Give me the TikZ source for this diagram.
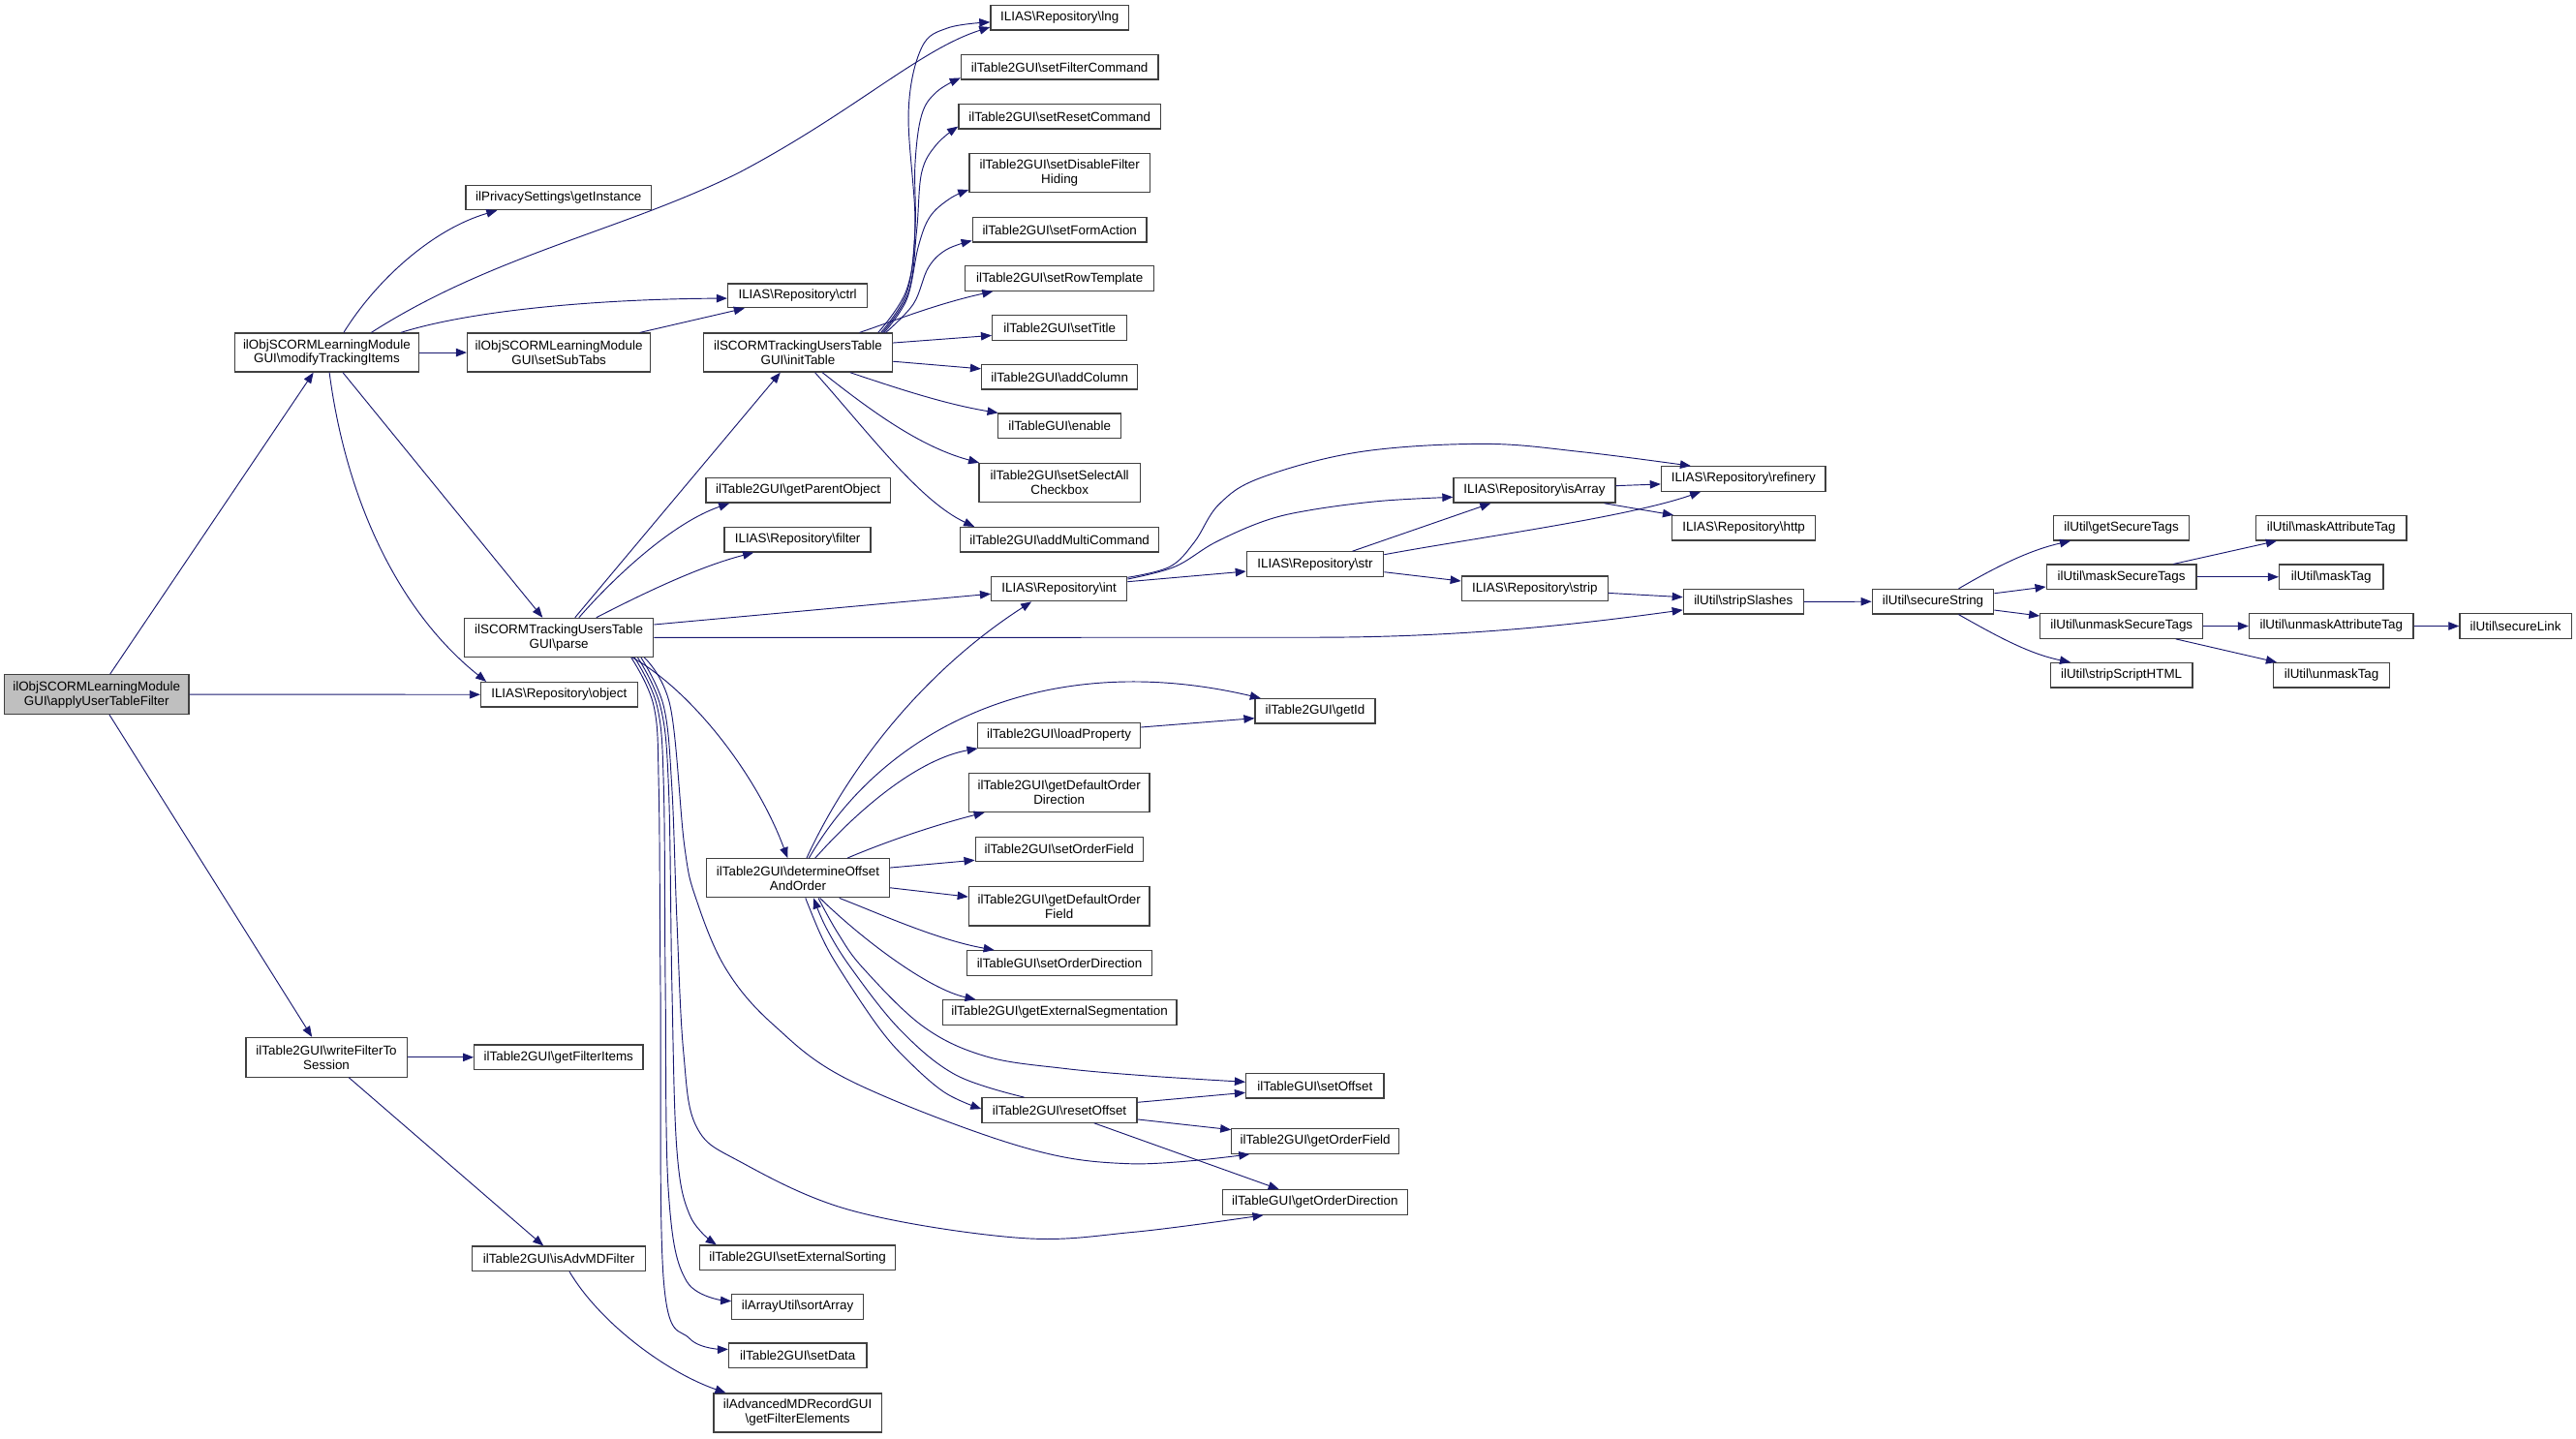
\documentclass[tikz,border=0pt]{standalone}
\usepackage{fontspec}
\setmainfont{Liberation Sans}
\usetikzlibrary{arrows.meta}
\definecolor{edgecol}{HTML}{191970}
\definecolor{boxline}{HTML}{404040}
\definecolor{boxfill}{HTML}{BFBFBF}
\tikzset{
  box/.style={draw=boxline, line width=0.75pt, fill=white, inner sep=0pt, align=center,
              font=\fontsize{7.9}{8.8}\selectfont},
  e/.style={draw=edgecol, line width=0.55pt, -{Triangle[length=6.5pt,width=5pt]}},
}
\newcommand\mybox[6]{\node[box, minimum width=#4pt, minimum height=#5pt] (#1) at (#2,#3) {#6};}
\begin{document}
\begin{tikzpicture}[x=1pt,y=-1pt]
\fill[white] (0,0) rectangle (1568,875.4);
\useasboundingbox (0,0) rectangle (1568,875.4);
% nodes
\node[box, fill=boxfill, minimum width=112.4pt, minimum height=24pt] (apply) at (58.8,422.7) {ilObjSCORMLearningModule\\GUI\textbackslash applyUserTableFilter};
\mybox{mod}{198.9}{214.6}{112}{23.6}{ilObjSCORMLearningModule\\GUI\textbackslash modifyTrackingItems}
\mybox{wfs}{198.7}{643.6}{98}{24}{ilTable2GUI\textbackslash writeFilterTo\\Session}
\mybox{priv}{340}{120.2}{113}{15}{ilPrivacySettings\textbackslash getInstance}
\mybox{subtabs}{340.2}{214.6}{111.5}{23.6}{ilObjSCORMLearningModule\\GUI\textbackslash setSubTabs}
\mybox{parse}{340.2}{388.1}{115}{23.6}{ilSCORMTrackingUsersTable\\GUI\textbackslash parse}
\mybox{object}{340.3}{422.8}{95.3}{15}{ILIAS\textbackslash Repository\textbackslash object}
\mybox{gfi}{340}{643.6}{102.7}{15}{ilTable2GUI\textbackslash getFilterItems}
\mybox{advmd}{340.2}{766.2}{105.3}{15}{ilTable2GUI\textbackslash isAdvMDFilter}
\mybox{ctrl}{485.5}{180}{85}{14.6}{ILIAS\textbackslash Repository\textbackslash ctrl}
\mybox{init}{485.7}{214.6}{115}{23.6}{ilSCORMTrackingUsersTable\\GUI\textbackslash initTable}
\mybox{gpo}{485.8}{298.5}{112}{15}{ilTable2GUI\textbackslash getParentObject}
\mybox{filter}{485.5}{328.5}{89}{15}{ILIAS\textbackslash Repository\textbackslash filter}
\mybox{doao}{485.7}{534.5}{111.3}{23.6}{ilTable2GUI\textbackslash determineOffset\\AndOrder}
\mybox{ses}{485.5}{765.6}{119}{15}{ilTable2GUI\textbackslash setExternalSorting}
\mybox{sort}{485.5}{795.5}{80}{15}{ilArrayUtil\textbackslash sortArray}
\mybox{setdata}{485.6}{825.1}{84}{15}{ilTable2GUI\textbackslash setData}
\mybox{gfe}{485.5}{860}{102}{23.5}{ilAdvancedMDRecordGUI\\\textbackslash getFilterElements}
\mybox{lng}{645}{10.7}{84}{15}{ILIAS\textbackslash Repository\textbackslash lng}
\mybox{sfc}{645}{40.9}{120}{15}{ilTable2GUI\textbackslash setFilterCommand}
\mybox{src}{645}{70.9}{123}{15}{ilTable2GUI\textbackslash setResetCommand}
\mybox{sdfh}{645}{105.2}{110}{23.6}{ilTable2GUI\textbackslash setDisableFilter\\Hiding}
\mybox{sfa}{645}{139.9}{106}{15}{ilTable2GUI\textbackslash setFormAction}
\mybox{srt}{645}{169.5}{115}{15}{ilTable2GUI\textbackslash setRowTemplate}
\mybox{stitle}{645}{199.5}{82}{15}{ilTable2GUI\textbackslash setTitle}
\mybox{addcol}{645}{229.5}{95}{15}{ilTable2GUI\textbackslash addColumn}
\mybox{enable}{645}{259.2}{75}{15}{ilTableGUI\textbackslash enable}
\mybox{ssac}{645}{293.9}{98}{23.7}{ilTable2GUI\textbackslash setSelectAll\\Checkbox}
\mybox{amc}{645}{328.5}{121}{15}{ilTable2GUI\textbackslash addMultiCommand}
\mybox{int}{644.7}{358.5}{82.6}{14.8}{ILIAS\textbackslash Repository\textbackslash int}
\mybox{lp}{644.6}{447.7}{99}{15}{ilTable2GUI\textbackslash loadProperty}
\mybox{gdod}{644.7}{482.4}{110}{23.6}{ilTable2GUI\textbackslash getDefaultOrder\\Direction}
\mybox{sof}{644.7}{517}{102}{15}{ilTable2GUI\textbackslash setOrderField}
\mybox{gdof}{644.7}{551.7}{110}{23.7}{ilTable2GUI\textbackslash getDefaultOrder\\Field}
\mybox{sod}{644.9}{586.2}{112.3}{15}{ilTableGUI\textbackslash setOrderDirection}
\mybox{ges}{644.9}{616.3}{142.5}{15}{ilTable2GUI\textbackslash getExternalSegmentation}
\mybox{reset}{644.9}{675.8}{94.4}{15}{ilTable2GUI\textbackslash resetOffset}
\mybox{str}{800.5}{343.4}{83.3}{15}{ILIAS\textbackslash Repository\textbackslash str}
\mybox{getid}{800.5}{432.9}{73}{15}{ilTable2GUI\textbackslash getId}
\mybox{setoffset}{800.4}{661}{84}{15}{ilTableGUI\textbackslash setOffset}
\mybox{gof}{800.6}{694.7}{101.8}{15}{ilTable2GUI\textbackslash getOrderField}
\mybox{god}{800.4}{731.8}{112.4}{15}{ilTableGUI\textbackslash getOrderDirection}
\mybox{isarray}{934}{298.5}{98.4}{15}{ILIAS\textbackslash Repository\textbackslash isArray}
\mybox{strip}{934.2}{358.3}{89}{15}{ILIAS\textbackslash Repository\textbackslash strip}
\mybox{refinery}{1061.2}{291.5}{100}{15}{ILIAS\textbackslash Repository\textbackslash refinery}
\mybox{http}{1061.4}{321.4}{87.2}{15}{ILIAS\textbackslash Repository\textbackslash http}
\mybox{slashes}{1061.2}{366.3}{73}{15}{ilUtil\textbackslash stripSlashes}
\mybox{secstr}{1176.6}{366.2}{74}{15}{ilUtil\textbackslash secureString}
\mybox{gst}{1291.3}{321.4}{82.7}{15}{ilUtil\textbackslash getSecureTags}
\mybox{mst}{1291.3}{351.2}{91.3}{15}{ilUtil\textbackslash maskSecureTags}
\mybox{ust}{1291.4}{381.1}{99}{15}{ilUtil\textbackslash unmaskSecureTags}
\mybox{sshtml}{1291.3}{411}{86.5}{15}{ilUtil\textbackslash stripScriptHTML}
\mybox{mat}{1419}{321.4}{91.6}{15}{ilUtil\textbackslash maskAttributeTag}
\mybox{mtag}{1419}{351.2}{63.3}{15}{ilUtil\textbackslash maskTag}
\mybox{uat}{1419}{381.1}{100}{15}{ilUtil\textbackslash unmaskAttributeTag}
\mybox{utag}{1419.2}{411}{71}{15}{ilUtil\textbackslash unmaskTag}
\mybox{slink}{1531.2}{381.1}{68}{15}{ilUtil\textbackslash secureLink}
% edges: applyUserTableFilter
\draw[e] ([xshift=8.2pt]apply.north) -- ([xshift=-8.1pt]mod.south);
\draw[e] (apply.east) -- (object.west);
\draw[e] ([xshift=7.8pt]apply.south) -- ([xshift=-8.8pt]wfs.north);
% modifyTrackingItems
\draw[e] ([xshift=10.3pt]mod.north) .. controls (228,172) and (262,140) .. ([xshift=-37.4pt]priv.south);
\draw[e] ([xshift=27.1pt]mod.north) .. controls (300,155) and (380,140) .. (450,105) .. controls (520,68) and (560,30) .. ([yshift=-5.8pt]lng.west);
\draw[e] ([xshift=45.1pt]mod.north) .. controls (290,188) and (370,182) .. ([yshift=-1.6pt]ctrl.west);
\draw[e] (mod.east) -- (subtabs.west);
\draw[e] ([xshift=9.8pt]mod.south) -- ([xshift=-9.9pt]parse.north);
\draw[e] ([xshift=1.6pt]mod.south) .. controls (210,300) and (240,370) .. ([xshift=-44.3pt]object.north);
\draw[e] ([xshift=49.3pt]subtabs.north) -- ([xshift=-32.3pt]ctrl.south);
% parse
\draw[e] ([xshift=9.8pt]parse.north) -- ([xshift=-10.7pt]init.south);
\draw[e] ([xshift=12.2pt]parse.north) .. controls (375,350) and (410,318) .. ([xshift=-41.8pt]gpo.south);
\draw[e] ([xshift=22.8pt]parse.north) .. controls (390,362) and (425,345) .. ([xshift=-26.8pt]filter.south);
\draw[e] ([yshift=7.9pt]parse.east) -- ([yshift=-3pt]int.west);
\draw[e] (parse.east) -- (800,388) .. controls (900,388) and (975,378) .. ([yshift=-5pt]slashes.west);
\draw[e] ([xshift=44.8pt]parse.south) .. controls (420,420) and (460,470) .. ([xshift=-6.3pt]doao.north);
\draw[e] plot[smooth,tension=0.6] coordinates {([xshift=52pt]parse.south) (408,430) (416.6,514.8) (424,548) (442,590) (471,624) (518.5,658.3) (620,697.5) (688,708.4) ([xshift=-40pt]gof.south)};
\draw[e] plot[smooth,tension=0.6] coordinates {([xshift=50pt]parse.south) (404,430) (409,480) (412,560) (416,640) (424,686) (451,707.4) (518.5,736.9) (620,753.5) (690,750) ([xshift=-31.4pt]god.south)};
\draw[e] plot[smooth,tension=0.6] coordinates {([xshift=48pt]parse.south) (402,430) (407,480) (409,600) (412,700) (420,740) ([xshift=-49.4pt]ses.north)};
\draw[e] plot[smooth,tension=0.6] coordinates {([xshift=46pt]parse.south) (400,430) (404,480) (405,600) (407,727) (418,780) ([yshift=3.5pt]sort.west)};
\draw[e] plot[smooth,tension=0.6] coordinates {([xshift=44pt]parse.south) (398,430) (401,480) (402,600) (404,780) (420,815) ([yshift=3.8pt]setdata.west)};
% initTable
\draw[e] plot[smooth,tension=0.6] coordinates {([xshift=48.8pt]init.north) (552,176) (557,135) (553,68) (561,29) (577,17) ([yshift=-2.8pt]lng.west)};
\draw[e] plot[smooth,tension=0.6] coordinates {([xshift=50.5pt]init.north) (552,178) (557,140) (557,100) (561,70) (570,56) ([yshift=-6.5pt]sfc.west)};
\draw[e] plot[smooth,tension=0.6] coordinates {([xshift=51.5pt]init.north) (553,178) (558,140) (561,105) (570,88) ([yshift=-6.1pt]src.west)};
\draw[e] plot[smooth,tension=0.6] coordinates {([xshift=52.5pt]init.north) (552,182) (559,150) (566,132) (578,121) ([yshift=-10.3pt]sdfh.west)};
\draw[e] plot[smooth,tension=0.6] coordinates {([xshift=53.5pt]init.north) (556,185) (565,163) (576,152) ([yshift=-6.6pt]sfa.west)};
\draw[e] ([xshift=37.5pt]init.north) .. controls (545,195) and (570,185) .. ([xshift=-40.6pt]srt.south);
\draw[e] ([yshift=5.9pt]init.east) -- ([yshift=-4.7pt]stitle.west);
\draw[e] ([yshift=-5.4pt]init.east) -- ([yshift=5pt]addcol.west);
\draw[e] ([xshift=31.8pt]init.south) .. controls (545,236) and (575,246) .. ([xshift=-37.5pt]enable.north);
\draw[e] ([xshift=14.9pt]init.south) .. controls (530,250) and (560,272) .. ([xshift=-49pt]ssac.north);
\draw[e] ([xshift=10.4pt]init.south) .. controls (530,265) and (560,305) .. ([xshift=-51.9pt]amc.north);
% determineOffsetAndOrder
\draw[e] ([xshift=5.3pt]doao.north) .. controls (515,470) and (560,410) .. ([xshift=-16.8pt]int.south);
\draw[e] ([xshift=6.7pt]doao.north) .. controls (540,440) and (640,395) .. ([xshift=-33.1pt]getid.north);
\draw[e] ([xshift=10.5pt]doao.north) .. controls (525,490) and (560,462) .. ([xshift=-49.5pt]lp.south);
\draw[e] ([xshift=30.1pt]doao.north) .. controls (540,512) and (570,502) .. ([xshift=-45.4pt]gdod.south);
\draw[e] ([yshift=6.3pt]doao.east) -- ([yshift=-6.6pt]sof.west);
\draw[e] ([yshift=-5.9pt]doao.east) -- ([yshift=5.8pt]gdof.west);
\draw[e] ([xshift=25.2pt]doao.south) .. controls (535,556) and (570,572) .. ([xshift=-39.7pt]sod.north);
\draw[e] ([xshift=13.4pt]doao.south) .. controls (525,572) and (565,602) .. ([xshift=-51pt]ges.north);
\draw[e] plot[smooth,tension=0.6] coordinates {([xshift=12.4pt]doao.south) (510,568) (525.5,589.5) (562,624.9) (600,643) (647.7,650.4) (700,655) ([yshift=2.4pt]setoffset.west)};
\draw[e] plot[smooth,tension=0.6] coordinates {([xshift=4.6pt]doao.south) (500,570) (510.8,589.5) (534.5,624.9) (552,645) (575,665) ([yshift=0.8pt]reset.west)};
\draw[e] plot[smooth,tension=0.6] coordinates {([xshift=-21.5pt]reset.north) (581.7,654.3) (548,627) (518.2,589.5) (503,565) ([xshift=9.5pt]doao.south)};
% resetOffset, loadProperty
\draw[e] ([yshift=4.8pt]reset.east) -- ([yshift=-4.1pt]setoffset.west);
\draw[e] ([yshift=-5.6pt]reset.east) -- ([yshift=7pt]gof.west);
\draw[e] ([xshift=21.1pt]reset.south) -- ([xshift=-21.9pt]god.north);
\draw[e] ([yshift=5pt]lp.east) -- ([yshift=-4.3pt]getid.west);
% int, str
\draw[e] ([yshift=4.4pt]int.east) -- ([yshift=-4.4pt]str.west);
\draw[e] plot[smooth,tension=0.6] coordinates {([yshift=7pt]int.east) (712,345) (727,330) (742,307) (767.5,290.8) (827.6,275.1) (902.9,270.2) (963,275.1) ([xshift=-32pt]refinery.north)};
\draw[e] plot[smooth,tension=0.6] coordinates {([yshift=6pt]int.east) (715,345) (739.8,330.1) (770,317) (797.6,310.5) (840,305) ([yshift=-4.1pt]isarray.west)};
\draw[e] ([xshift=22.7pt]str.north) -- ([xshift=-26.6pt]isarray.south);
\draw[e] ([yshift=5.8pt]str.east) .. controls (900,327) and (990,315) .. ([xshift=-26pt]refinery.south);
\draw[e] ([yshift=-4.8pt]str.east) -- ([yshift=4.6pt]strip.west);
\draw[e] ([yshift=2.8pt]isarray.east) -- ([yshift=-3.2pt]refinery.west);
\draw[e] ([xshift=42.5pt]isarray.south) -- ([xshift=-42.8pt]http.north);
\draw[e] ([yshift=-2.7pt]strip.east) -- ([yshift=2.8pt]slashes.west);
% ilUtil
\draw[e] (slashes.east) -- (secstr.west);
\draw[e] ([xshift=15.6pt]secstr.north) .. controls (1215,345) and (1235,335) .. ([xshift=-31pt]gst.south);
\draw[e] ([yshift=5pt]secstr.east) -- ([yshift=-6pt]mst.west);
\draw[e] ([yshift=-5.2pt]secstr.east) -- ([yshift=6.2pt]ust.west);
\draw[e] ([xshift=15.6pt]secstr.south) .. controls (1215,387) and (1235,398) .. ([xshift=-31pt]sshtml.north);
\draw[e] ([xshift=31.7pt]mst.north) -- ([xshift=-33.2pt]mat.south);
\draw[e] (mst.east) -- (mtag.west);
\draw[e] (ust.east) -- (uat.west);
\draw[e] ([xshift=33pt]ust.south) -- ([xshift=-33.4pt]utag.north);
\draw[e] (uat.east) -- (slink.west);
% writeFilterToSession
\draw[e] (wfs.east) -- (gfi.west);
\draw[e] ([xshift=13.7pt]wfs.south) -- ([xshift=-9.4pt]advmd.north);
\draw[e] ([xshift=6.4pt]advmd.south) .. controls (365,805) and (405,835) .. ([xshift=-43.7pt]gfe.north);
\end{tikzpicture}
\end{document}
